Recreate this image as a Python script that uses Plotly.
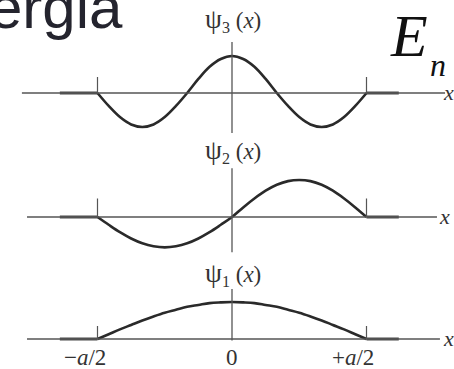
import plotly.graph_objects as go

# --- data -------------------------------------------------------------
# positions across the well, in units of the well width a
x_grid = [k / 24 for k in range(-12, 13)]

# first three stationary states of the infinite square well
psi1 = [0.0, 0.13, 0.26, 0.38, 0.5, 0.61, 0.71, 0.79, 0.87, 0.92, 0.97, 0.99, 1.0,
        0.99, 0.97, 0.92, 0.87, 0.79, 0.71, 0.61, 0.5, 0.38, 0.26, 0.13, 0.0]
psi2 = [0.0, -0.21, -0.41, -0.58, -0.71, -0.79, -0.82, -0.79, -0.71, -0.58, -0.41, -0.21, 0.0,
        0.26, 0.5, 0.71, 0.87, 0.97, 1.0, 0.97, 0.87, 0.71, 0.5, 0.26, 0.0]
psi3 = [0.0, -0.35, -0.65, -0.85, -0.92, -0.85, -0.65, -0.35, 0.0, 0.38, 0.71, 0.92, 1.0,
        0.92, 0.71, 0.38, 0.0, -0.35, -0.65, -0.85, -0.92, -0.85, -0.65, -0.35, 0.0]

# wavefunction vanishes outside the walls
outside_left_x = [-0.64, -0.5]
outside_right_x = [0.5, 0.62]
outside_y = [0.0, 0.0]

wall_x = [-0.5, 0.5]
tick_vals = [-0.5, 0.0, 0.5]
tick_text = ["\u2212<i>a</i>/2", "0", "+<i>a</i>/2"]
state_index = ["1", "2", "3"]

# --- layout helpers ----------------------------------------------------
W, H = 454, 369
UNIT = 37.0          # pixels per unit of psi
X0_PX, A_PX = 232.0, 269.0


def fy(px):
    return 1 - px / H


def fx(px):
    return px / W


def domain_for(base_px, lo, hi):
    return [fy(base_px - UNIT * lo), fy(base_px - UNIT * hi)]


def state_label(n):
    return ("<span style='font-size:27px'>\u03c8</span>"
            "<sub>" + n + "</sub> (<i>x</i>)")


panels = [
    # (values, y-axis id, baseline px, range, axis line x-extent, vertical axis extent, wall tick height)
    (psi1, "y", 339, (-0.6, 1.6), (-0.762, 0.773), (-0.04, 1.35), 0.35),
    (psi2, "y2", 217, (-1.2, 1.5), (-0.762, 0.762), (-0.95, 1.32), 0.5),
    (psi3, "y3", 93, (-1.5, 2.4), (-0.781, 0.792), (-1.08, 1.38), 0.43),
]

CURVE = "#2a2a2a"
AXIS = "#555555"
TEXT = "#333333"

fig = go.Figure()
shapes = []
layout_axes = {}

for i, (vals, yid, base, (lo, hi), (hx0, hx1), (vy0, vy1), th) in enumerate(panels):
    axname = "yaxis" if yid == "y" else "yaxis" + yid[1:]
    layout_axes[axname] = dict(domain=domain_for(base, lo, hi), range=[lo, hi],
                               visible=False, fixedrange=True)
    # horizontal and vertical axis lines
    shapes.append(dict(type="line", xref="x", yref=yid, x0=hx0, x1=hx1, y0=0, y1=0,
                       line=dict(color=AXIS, width=1.3)))
    shapes.append(dict(type="line", xref="x", yref=yid, x0=0, x1=0, y0=vy0, y1=vy1,
                       line=dict(color=AXIS, width=1.3)))
    # small marks at the walls
    for wx in wall_x:
        shapes.append(dict(type="line", xref="x", yref=yid, x0=wx, x1=wx, y0=0, y1=th,
                           line=dict(color=AXIS, width=1.2)))
    # zero wavefunction outside the well
    for sx in (outside_left_x, outside_right_x):
        fig.add_trace(go.Scatter(x=sx, y=outside_y, yaxis=yid, mode="lines",
                                 line=dict(color="#4a4a4a", width=3.2),
                                 hoverinfo="skip", showlegend=False))
    fig.add_trace(go.Scatter(x=x_grid, y=vals, yaxis=yid, mode="lines",
                             line=dict(color=CURVE, width=2.6, shape="spline"),
                             showlegend=False))

annotations = []
serif = "Liberation Serif"

# state labels above each vertical axis
for n, cy in zip(state_index, [274, 151, 20]):
    annotations.append(dict(text=state_label(n), x=fx(232.5), y=fy(cy), xref="paper", yref="paper",
                            xanchor="center", yanchor="middle", showarrow=False,
                            font=dict(family=serif, size=23, color=TEXT)))

# x labels at the right ends of the axes
for cy, lx in zip([339, 217, 93], [441, 437, 441]):
    annotations.append(dict(text="<i>x</i>", x=fx(lx), y=fy(cy - 1), xref="paper", yref="paper",
                            xanchor="left", yanchor="middle", showarrow=False,
                            font=dict(family=serif, size=22, color=TEXT)))

# tick labels under the bottom axis
for tv, tt, dx in zip(tick_vals, tick_text, [-13, 0, -14]):
    annotations.append(dict(text=tt, x=tv, xref="x", y=fy(357.5), yref="paper",
                            xanchor="center", yanchor="middle", xshift=dx, showarrow=False,
                            font=dict(family=serif, size=23, color=TEXT)))

# heading fragments
annotations.append(dict(text="ergia", x=fx(-13.4), y=fy(7.2), xref="paper", yref="paper",
                        xanchor="left", yanchor="middle", showarrow=False,
                        font=dict(family="Liberation Sans", size=60, color="#24242e")))
annotations.append(dict(text="<i>E</i>", x=fx(388), y=fy(35.7), xref="paper", yref="paper",
                        xanchor="left", yanchor="middle", showarrow=False,
                        font=dict(family=serif, size=60, color="#111111")))
annotations.append(dict(text="<i>n</i>", x=fx(428), y=fy(64.7), xref="paper", yref="paper",
                        xanchor="left", yanchor="middle", showarrow=False,
                        font=dict(family=serif, size=32, color="#111111")))

fig.update_layout(
    width=W, height=H,
    margin=dict(l=0, r=0, t=0, b=0),
    paper_bgcolor="white", plot_bgcolor="white",
    xaxis=dict(range=[-X0_PX / A_PX, (W - X0_PX) / A_PX], visible=False, fixedrange=True),
    shapes=shapes, annotations=annotations,
    showlegend=False,
    **layout_axes,
)

fig.write_html("out.html", config={"displayModeBar": False})
